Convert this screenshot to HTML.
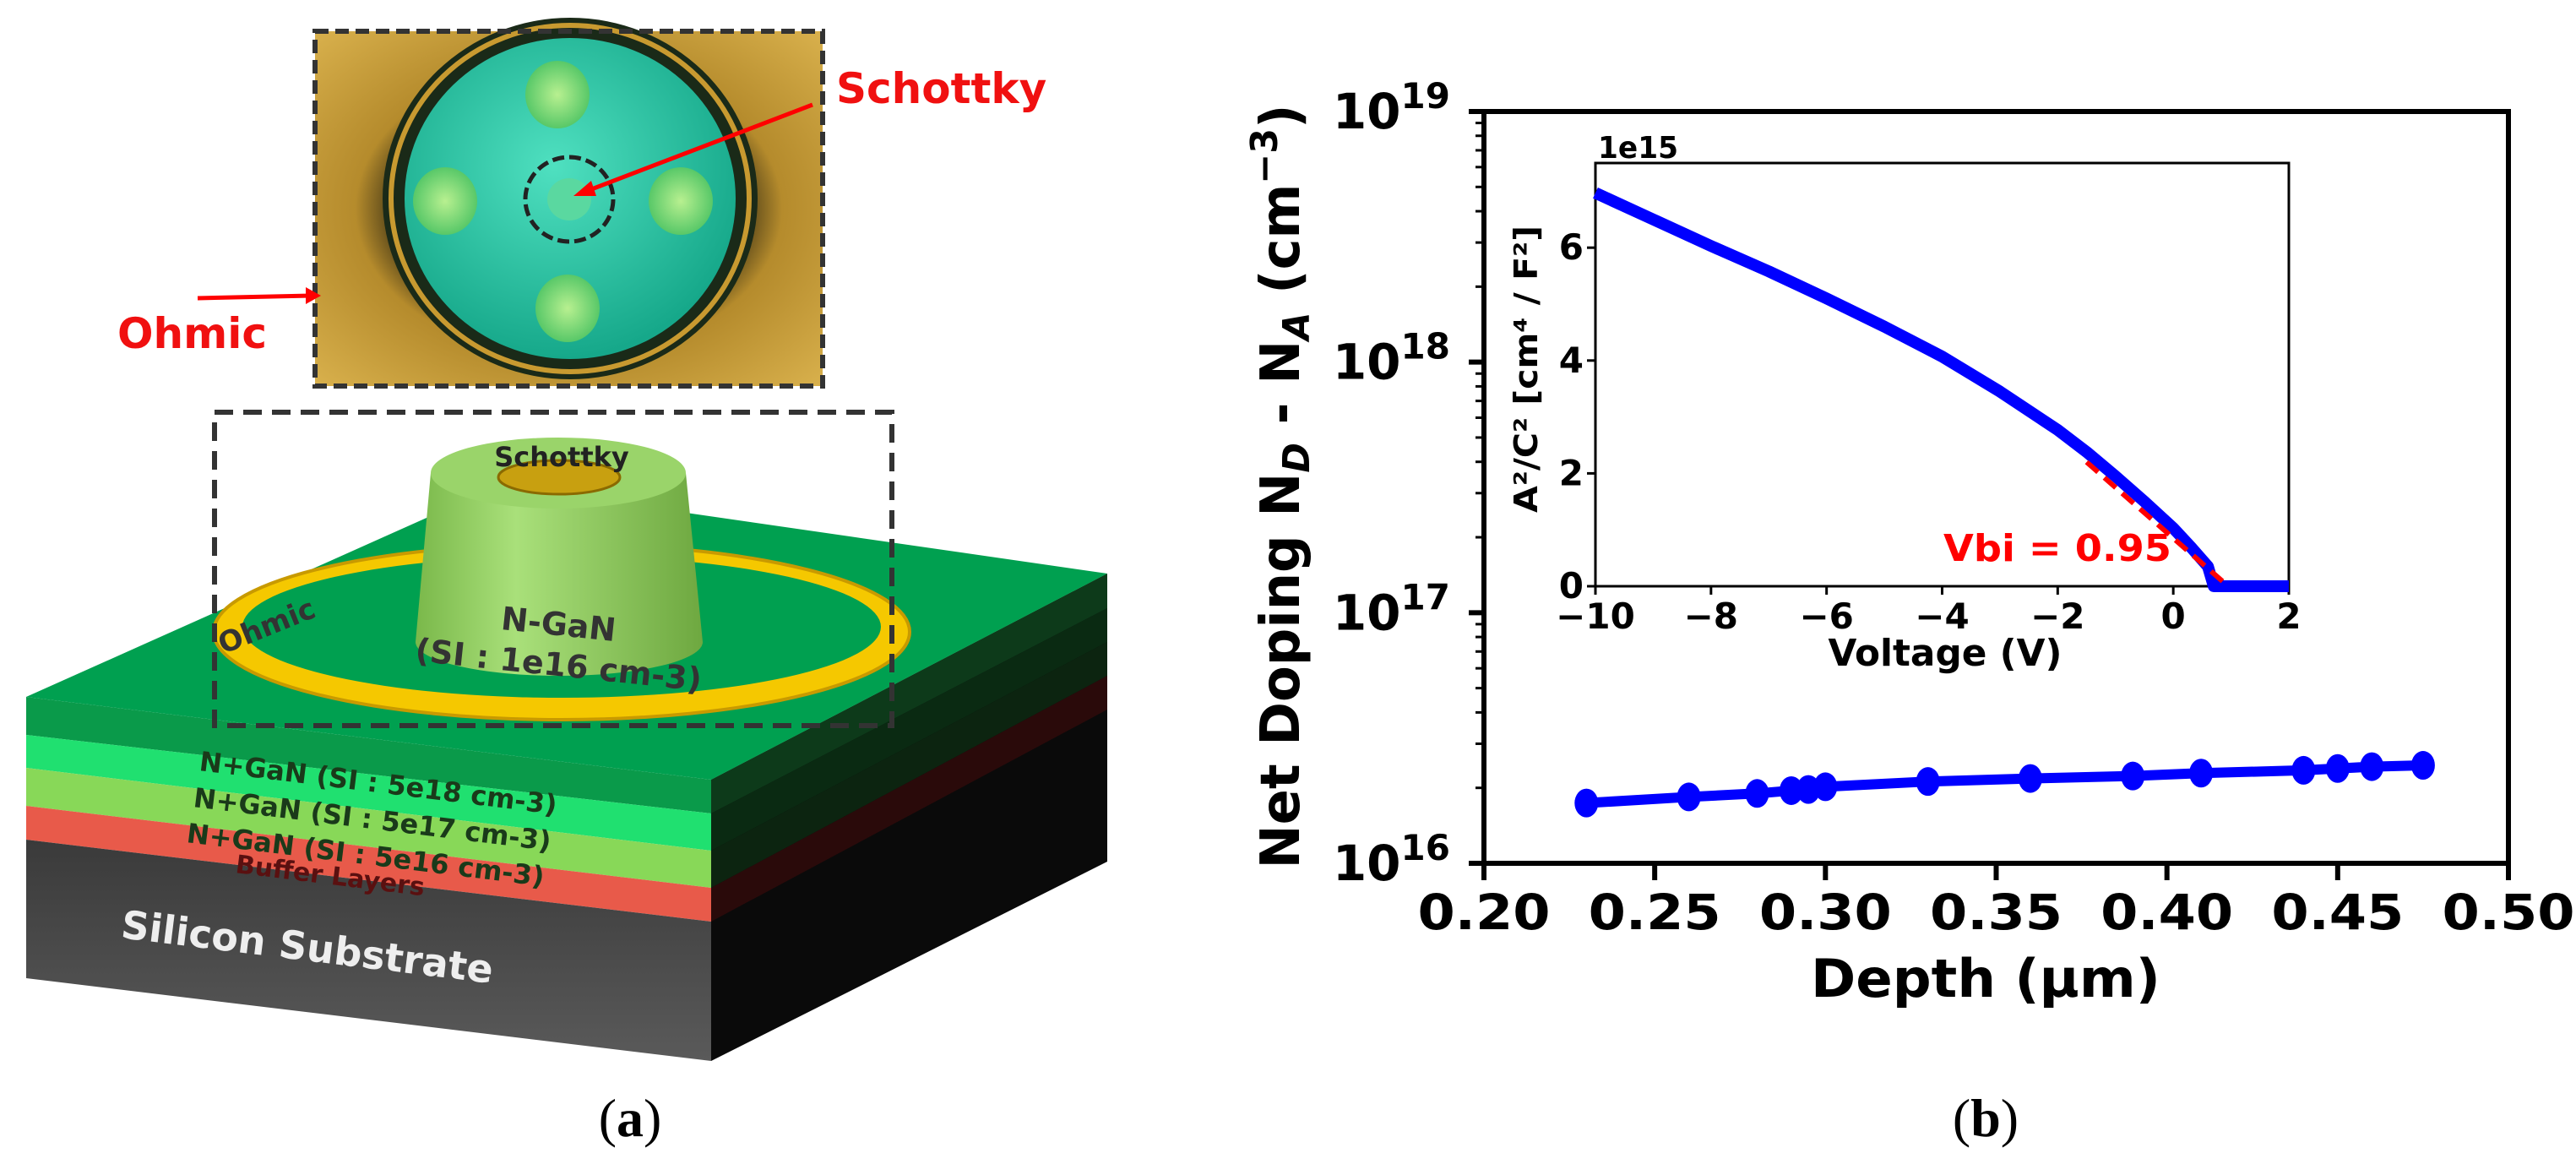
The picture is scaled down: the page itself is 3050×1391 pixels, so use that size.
<!DOCTYPE html>
<html><head><meta charset="utf-8">
<style>
html,body{margin:0;padding:0;background:#fff;}
svg{display:block;}
text{font-family:"DejaVu Sans","Liberation Sans",sans-serif;}
</style></head>
<body>
<svg id="fig" width="3050" height="1391" viewBox="0 0 3050 1391" xmlns="http://www.w3.org/2000/svg">
<defs>
<radialGradient id="bg" cx="50%" cy="50%" r="70%"><stop offset="0.45" stop-color="#2a2410"/><stop offset="0.6" stop-color="#b58b2c"/><stop offset="1" stop-color="#d8b04c"/></radialGradient>
<radialGradient id="disc" cx="45%" cy="40%" r="60%"><stop offset="0" stop-color="#4fe0c0"/><stop offset="1" stop-color="#16a88a"/></radialGradient>
<radialGradient id="pad" cx="50%" cy="50%" r="50%"><stop offset="0" stop-color="#b8f090"/><stop offset="1" stop-color="#58c868"/></radialGradient>
<linearGradient id="cyl" x1="0" x2="1"><stop offset="0" stop-color="#7ab84a"/><stop offset="0.35" stop-color="#a9e07a"/><stop offset="1" stop-color="#6ea840"/></linearGradient>
<linearGradient id="sub" x1="0" y1="0" x2="0" y2="1"><stop offset="0" stop-color="#3a3a3a"/><stop offset="1" stop-color="#5a5a5a"/></linearGradient>
</defs>

<g>
  <g>
    <rect x="373" y="37" width="601" height="420" fill="url(#bg)"/>
    <ellipse cx="675" cy="235" rx="222" ry="214" fill="#1a2a18"/>
    <ellipse cx="675" cy="235" rx="212" ry="205" fill="none" stroke="#c89a30" stroke-width="6"/>
    <ellipse cx="675" cy="235" rx="196" ry="190" fill="url(#disc)"/>
    <ellipse cx="660" cy="112" rx="38" ry="40" fill="url(#pad)"/>
    <ellipse cx="527" cy="238" rx="38" ry="40" fill="url(#pad)"/>
    <ellipse cx="806" cy="238" rx="38" ry="40" fill="url(#pad)"/>
    <ellipse cx="672" cy="365" rx="38" ry="40" fill="url(#pad)"/>
    <ellipse cx="674" cy="236" rx="52" ry="50" fill="none" stroke="#222" stroke-width="5" stroke-dasharray="14 6"/>
    <ellipse cx="674" cy="236" rx="26" ry="25" fill="#5ad8a0"/>
    <rect x="373" y="37" width="601" height="420" fill="none" stroke="#333" stroke-width="6" stroke-dasharray="16 8"/>
  </g>
  <line x1="962" y1="124" x2="690" y2="228" stroke="#f00" stroke-width="5"/>
  <polygon points="679,232 700,214 706,232" fill="#f00"/>
  <text x="990" y="122" font-size="50" font-weight="bold" fill="#f01010">Schottky</text>
  <line x1="234" y1="353" x2="368" y2="350" stroke="#f00" stroke-width="5"/>
  <polygon points="380,350 362,340 362,360" fill="#f00"/>
  <text x="139" y="412" font-size="50" font-weight="bold" fill="#f01010">Ohmic</text>

  <g>
    <polygon points="842,923 1311,679 1311,1020 842,1256" fill="#0a0a0a"/>
    <polygon points="842,923 1311,679 1311,720 842,963" fill="#0d3a1a"/>
    <polygon points="842,963 1311,720 1311,760 842,1007" fill="#0a2a12"/>
    <polygon points="842,1007 1311,760 1311,800 842,1051" fill="#0c2410"/>
    <polygon points="842,1051 1311,800 1311,840 842,1091" fill="#2a0a0a"/>
    <polygon points="31,825 842,923 842,963 31,870" fill="#0a9a4a"/>
    <polygon points="31,870 842,963 842,1007 31,909" fill="#20e070"/>
    <polygon points="31,909 842,1007 842,1051 31,954" fill="#88d858"/>
    <polygon points="31,954 842,1051 842,1091 31,994" fill="#e85a4a"/>
    <polygon points="31,994 842,1091 842,1256 31,1158" fill="url(#sub)"/>
    <polygon points="31,825 590,575 1311,679 842,923" fill="#00a050"/>
    <ellipse cx="665" cy="748" rx="412" ry="104" fill="#f5c800" stroke="#c89a00" stroke-width="4"/>
    <ellipse cx="665" cy="742" rx="378" ry="84" fill="#00a050"/>
    <path d="M510,560 L492,760 A170,40 0 0 0 832,760 L812,560 Z" fill="url(#cyl)"/>
    <ellipse cx="661" cy="560" rx="151" ry="42" fill="#9ad46a"/>
    <ellipse cx="662" cy="565" rx="72" ry="20" fill="#c8a010" stroke="#8a6a00" stroke-width="3"/>
    <text x="665" y="552" font-size="32" font-weight="bold" fill="#222" text-anchor="middle">Schottky</text>
    <text x="660" y="752" font-size="38" font-weight="bold" fill="#333" text-anchor="middle" transform="rotate(6 660 752)">N-GaN</text>
    <text x="660" y="800" font-size="38" font-weight="bold" fill="#333" text-anchor="middle" transform="rotate(6 660 800)">(SI : 1e16 cm-3)</text>
    <text x="320" y="752" font-size="34" font-weight="bold" fill="#333" text-anchor="middle" transform="rotate(-22 320 752)">Ohmic</text>
    <text x="235" y="912" font-size="32" font-weight="bold" fill="#1a3a1a" transform="rotate(7 235 912)">N+GaN (SI : 5e18 cm-3)</text>
    <text x="228" y="955" font-size="32" font-weight="bold" fill="#1a3a1a" transform="rotate(7 228 955)">N+GaN (SI : 5e17 cm-3)</text>
    <text x="220" y="997" font-size="32" font-weight="bold" fill="#1a3a1a" transform="rotate(7 220 997)">N+GaN (SI : 5e16 cm-3)</text>
    <text x="278" y="1033" font-size="30" font-weight="bold" fill="#5a1010" transform="rotate(7 278 1033)">Buffer Layers</text>
    <text x="142" y="1110" font-size="46" font-weight="bold" fill="#eee" transform="rotate(7 142 1110)">Silicon Substrate</text>
  </g>
  <rect x="254" y="488" width="802" height="371" fill="none" stroke="#333" stroke-width="6" stroke-dasharray="22 12"/>
  <text x="746" y="1345" font-size="64" text-anchor="middle" style="font-family:'Liberation Serif',serif">(<tspan font-weight="bold">a</tspan>)</text>
</g>

<g id="plotb"></g>
<text x="2351" y="1345" font-size="64" text-anchor="middle" style="font-family:'Liberation Serif',serif">(<tspan font-weight="bold">b</tspan>)</text>
</svg>

<script>
const depth = [0.23,0.26,0.28,0.29,0.295,0.30,0.33,0.36,0.39,0.41,0.44,0.45,0.46,0.475];
const doping = [1.74e16,1.84e16,1.90e16,1.95e16,1.97e16,2.02e16,2.12e16,2.18e16,2.23e16,2.29e16,2.35e16,2.39e16,2.43e16,2.46e16];
const xTicks = [0.20,0.25,0.30,0.35,0.40,0.45,0.50];
const yExps = [16,17,18,19];
const voltage = [-10,-9,-8,-7,-6,-5,-4,-3,-2,-1.5,-1,-0.5,0,0.3,0.6,0.7,1.0,2];
const invC2 = [6.97,6.5,6.03,5.58,5.1,4.6,4.07,3.45,2.77,2.38,1.95,1.5,1.03,0.7,0.35,0,0,0];
const fitV = [-1.5,0.95];
const fitY = [2.2,0];
const insetXTicks = [-10,-8,-6,-4,-2,0,2];
const insetYTicks = [0,2,4,6];

const NS = 'http://www.w3.org/2000/svg';
const g = document.getElementById('plotb');
function mk(tag, attrs, parent){ const e=document.createElementNS(NS,tag); for(const k in attrs) e.setAttribute(k,attrs[k]); (parent||g).appendChild(e); return e; }

const L=1757, R=2970, T=132, B=1022;
const xs = v => L + (v-0.20)/(0.30)*(R-L);
const ys = v => B - (Math.log10(v)-16)/3*(B-T);
const iL=1889, iR=2710, iT=193, iB=694;
const ixs = v => iL + (v+10)/12*(iR-iL);
const iys = v => iB - v/7.5*(iB-iT);

let fr = mk('rect',{x:L,y:T,width:R-L,height:B-T,fill:'none',stroke:'#000','stroke-width':6});



yExps.forEach(e=>{
  const y=ys(Math.pow(10,e));
  const t=mk('line',{x1:L-18,y1:y,x2:L,y2:y,stroke:'#000','stroke-width':6});
  
  
  const lb=mk('text',{x:1717,y:y+20,'font-size':58,'font-weight':'bold','text-anchor':'end'});
  
  
  lb.innerHTML='10<tspan dy="-24" font-size="42">'+e+'</tspan>';
  if(e<19){ for(let m=2;m<=9;m++){ const my=ys(m*Math.pow(10,e)); mk('line',{x1:L-10,y1:my,x2:L,y2:my,stroke:'#000','stroke-width':3}); } }
});
xTicks.forEach(v=>{
  const x=xs(v);
  const t=mk('line',{x1:x,y1:B,x2:x,y2:B+20,stroke:'#000','stroke-width':6});
  
  
  const lb=mk('text',{x:x,y:B+78,'font-size':58,'font-weight':'bold','text-anchor':'middle',textLength:157,lengthAdjust:'spacingAndGlyphs'});
  
  
  lb.textContent=v.toFixed(2);
});
let xt=mk('text',{x:2351,y:1180,'font-size':62,'font-weight':'bold','text-anchor':'middle',textLength:414,lengthAdjust:'spacingAndGlyphs'});


xt.textContent='Depth (µm)';
let yt=mk('text',{x:0,y:0,'font-size':64,'font-weight':'bold','text-anchor':'middle',textLength:905,lengthAdjust:'spacingAndGlyphs',transform:'translate(1538,576) rotate(-90)'});


yt.innerHTML='Net Doping N<tspan dy="12" font-size="44" font-style="italic">D</tspan><tspan dy="-12"> - N</tspan><tspan dy="12" font-size="44" font-style="italic">A</tspan><tspan dy="-12">  (cm</tspan><tspan dy="-26" font-size="44">−3</tspan><tspan dy="26">)</tspan>';

let pts = depth.map((d,i)=>xs(d)+','+ys(doping[i])).join(' ');
let ln=mk('polyline',{points:pts,fill:'none',stroke:'#0000ff','stroke-width':12,'stroke-linejoin':'round'});


depth.forEach((d,i)=>{
  const c=mk('ellipse',{cx:xs(d),cy:ys(doping[i]),rx:14,ry:17,fill:'#0000ff'});
  
  
});

let ib=mk('rect',{x:iL,y:iT,width:iR-iL,height:iB-iT,fill:'#fff',stroke:'#000','stroke-width':3});


insetXTicks.forEach(v=>{
  const x=ixs(v);
  mk('line',{x1:x,y1:iB,x2:x,y2:iB+10,stroke:'#000','stroke-width':3});
  const lb=mk('text',{x:x,y:iB+50,'font-size':42,'font-weight':'bold','text-anchor':'middle'});
  
  
  lb.textContent=v<0?'−'+Math.abs(v):String(v);
});
insetYTicks.forEach(v=>{
  const y=iys(v);
  mk('line',{x1:iL-10,y1:y,x2:iL,y2:y,stroke:'#000','stroke-width':3});
  const lb=mk('text',{x:iL-14,y:y+14,'font-size':42,'font-weight':'bold','text-anchor':'end'});
  
  
  lb.textContent=String(v);
});
let e15=mk('text',{x:1892,y:187,'font-size':36,'font-weight':'bold',textLength:95,lengthAdjust:'spacingAndGlyphs'});


e15.textContent='1e15';
let ixt=mk('text',{x:2303,y:788,'font-size':44,'font-weight':'bold','text-anchor':'middle',textLength:277,lengthAdjust:'spacingAndGlyphs'});


ixt.textContent='Voltage (V)';
let iyt=mk('text',{x:0,y:0,'font-size':38,'font-weight':'bold','text-anchor':'middle',textLength:340,lengthAdjust:'spacingAndGlyphs',transform:'translate(1820,437) rotate(-90)'});


iyt.textContent='A²/C² [cm⁴ / F²]';
let ipts=voltage.map((v,i)=>ixs(v)+','+iys(invC2[i])).join(' ');
let il=mk('polyline',{points:ipts,fill:'none',stroke:'#0000ff','stroke-width':14,'stroke-linejoin':'round'});


let fl=mk('line',{x1:ixs(fitV[0]),y1:iys(fitY[0]),x2:ixs(fitV[1]),y2:iys(fitY[1]),stroke:'#ff0000','stroke-width':6,'stroke-dasharray':'18 10'});


let vb=mk('text',{x:2301,y:664,'font-size':44,'font-weight':'bold',fill:'#ff0000',textLength:270,lengthAdjust:'spacingAndGlyphs'});


vb.textContent='Vbi  = 0.95';
</script>
</body></html>
